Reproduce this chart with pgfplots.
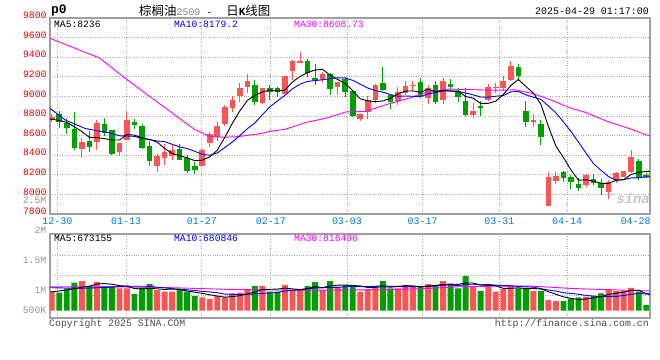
\documentclass[border=0pt]{standalone}
\usepackage{fontspec}
\setmainfont{Liberation Mono}
\newfontfamily\cjk{Noto Sans CJK SC}
\usepackage{pgfplots}
\usepackage{pgfplotstable}
\pgfplotsset{compat=1.18}
\definecolor{cred}{RGB}{250,85,85}
\definecolor{cgreen}{RGB}{0,158,0}
\definecolor{framegray}{RGB}{160,160,160}
\definecolor{gridgray}{RGB}{170,170,170}
\definecolor{tickblue}{RGB}{0,120,215}
\definecolor{pricered}{RGB}{235,0,0}
\definecolor{maten}{RGB}{0,0,255}
\definecolor{mathirty}{RGB}{255,0,255}
\definecolor{labgray}{RGB}{150,150,150}
\newcommand\fs[1]{\fontsize{#1}{#1}\selectfont}

\pgfplotstableread{
i o h l c v
0 8759 8820 8735 8786 776
4 8468 8571 8372 8533 1212
6 8530 8759 8451 8732 1171
9 8434 8526 8393 8526 914
10 8557 8855 8557 8759 914
14 8287 8417 8229 8393 845
15 8376 8513 8297 8434 776
16 8393 8502 8348 8451 776
20 8295 8460 8285 8453 547
21 8527 8640 8487 8620 478
22 8585 8736 8540 8698 600
23 8718 8915 8700 8895 547
24 8878 9002 8843 8963 710
25 9004 9140 8946 9083 735
26 9099 9229 9032 9157 845
28 8928 9090 8920 9083 1008
31 9029 9204 9029 9204 1049
32 9258 9376 9164 9366 845
33 9346 9450 9339 9366 845
36 9164 9248 9137 9231 845
38 9096 9150 9012 9147 980
41 8769 8822 8746 8820 776
42 8841 9000 8769 8966 886
43 8966 9126 8932 9112 1008
46 8956 9095 8915 9044 914
47 9034 9153 9017 9108 1049
48 9112 9160 9058 9119 980
50 8983 9112 8922 9085 1090
52 8966 9186 8922 9159 1212
56 8814 8932 8780 8854 1008
58 8966 9126 8949 9095 1090
59 9085 9136 9030 9100 776
60 9084 9204 9057 9153 886
61 9170 9359 9160 9314 1008
64 8741 8816 8689 8758 804
66 7883 8226 7883 8181 437
67 8140 8226 8106 8192 396
71 8095 8205 8071 8202 571
74 8020 8147 7958 8123 886
75 8150 8226 8113 8219 804
76 8181 8243 8174 8236 804
77 8233 8449 8219 8380 927
}\redtab

\pgfplotstableread{
i o h l c v
1 8817 8855 8680 8742 735
2 8732 8776 8612 8673 914
3 8667 8838 8451 8475 1143
5 8547 8646 8434 8485 1008
7 8718 8783 8598 8622 1008
8 8656 8656 8400 8410 1008
11 8735 8769 8667 8708 682
12 8701 8718 8461 8472 939
13 8496 8543 8287 8338 1090
17 8468 8519 8348 8355 845
18 8376 8400 8218 8239 776
19 8287 8331 8212 8246 600
27 9116 9164 8911 8946 1008
29 9086 9113 8968 9046 776
30 9086 9096 8995 9040 776
34 9366 9383 9198 9241 1008
35 9191 9326 9120 9171 1171
37 9231 9241 9012 9073 1212
39 9175 9198 8995 9040 1049
40 9058 9060 8790 8797 1049
44 9139 9295 9051 9068 1212
45 9017 9024 8875 8939 914
49 9142 9186 8983 9000 1008
51 9119 9153 8922 8939 1049
53 9129 9180 9058 9092 1090
54 9058 9085 8942 8990 914
55 8949 9085 8797 8814 1416
57 8898 8949 8803 8891 804
62 9300 9331 9153 9204 914
63 8851 8957 8689 8741 914
65 8717 8758 8501 8586 804
68 8233 8243 8123 8164 396
69 8181 8198 8054 8123 478
70 8109 8168 8037 8065 547
72 8157 8209 8095 8116 600
73 8113 8157 7992 8061 710
78 8336 8363 8150 8164 776
79 8202 8219 8164 8174 233
}\greentab

\pgfplotsset{
  sinaaxis/.style={
    scale only axis, width=600bp,
    xmin=-0.23, xmax=79.5,
    axis line style={draw=framegray, line width=1.1bp},
    xtick={0.74,9.88,19.95,29.12,39.23,49.28,59.48,68.48},
    grid=major,
    major grid style={draw=gridgray, dotted, line width=0.8bp},
    major tick length=0pt,
    tick style={draw=none},
  },
  wick/.style={draw=none, mark=none, no markers, forget plot,
    error bars/.cd, y dir=both, y explicit, error mark=none,
    error bar style={draw=#1, solid, line width=1bp}},
  body/.style={draw=none, mark=none, no markers, forget plot,
    error bars/.cd, y dir=both, y explicit, error mark=none,
    error bar style={draw=#1, solid, line width=5.6bp}},
}

\begin{document}
\begin{tikzpicture}
\path[use as bounding box] (0bp,0bp) rectangle (660bp,-360bp);

% ---------------- price panel ----------------
\begin{axis}[sinaaxis,
  at={(50bp,-18bp)}, anchor=north west, height=196bp,
  ymin=7800, ymax=9800,
  ytick={7800,8000,8200,8400,8600,8800,9000,9200,9400,9600,9800},
  yticklabels={7800,8000,8200,8400,8600,8800,9000,9200,9400,9600,9800},
  xticklabels={12-30,01-13,01-27,02-17,03-03,03-17,03-31,04-14},
  extra x ticks={77.6}, extra x tick labels={04-28},
  extra x tick style={grid=none},
  xticklabel style={font=\fs{10}, text=tickblue},
  yticklabel style={font=\fs{9.8}, text=pricered, yshift=2.5bp},
  clip=true,
]
\addplot[wick=cred] table[x=i, y expr={(\thisrow{h}+\thisrow{l})/2}, y error expr={(\thisrow{h}-\thisrow{l})/2}] {\redtab};
\addplot[body=cred] table[x=i, y expr={(\thisrow{o}+\thisrow{c})/2}, y error expr={max(abs(\thisrow{c}-\thisrow{o})/2,5)}] {\redtab};
\addplot[wick=cgreen] table[x=i, y expr={(\thisrow{h}+\thisrow{l})/2}, y error expr={(\thisrow{h}-\thisrow{l})/2}] {\greentab};
\addplot[body=cgreen] table[x=i, y expr={(\thisrow{o}+\thisrow{c})/2}, y error expr={max(abs(\thisrow{c}-\thisrow{o})/2,5)}] {\greentab};

% MA30
\addplot[mathirty, line width=0.9bp, mark=none] coordinates {(-0.23,9593)(2.03,9524)(6.42,9389)(9.48,9201)(13.07,8997)(17.06,8770)(19.06,8660)(21.06,8590)(23.05,8583)(24.78,8590)(27.97,8623)(29,8644)(31.02,8664)(33.68,8732)(36.74,8783)(39,8841)(41.66,8847)(44.72,8922)(47.87,8990)(49,9027)(52.7,9075)(54.97,9071)(59,9062)(61.6,9067)(64,9027)(66,8973)(69,8880)(71,8835)(74,8740)(77,8665)(79,8607)(79.5,8600)};
% MA10
\addplot[maten, line width=0.9bp, mark=none] coordinates {(-0.23,8879)(1.77,8760)(4.43,8673)(7.98,8622)(9,8598)(10,8596)(11,8592)(12,8572)(13,8559)(14,8545)(15,8539)(16,8511)(17,8485)(18,8468)(19,8440)(20,8409)(21,8400)(22,8423)(23,8478)(24,8535)(25,8600)(26,8671)(27,8730)(28,8814)(29,8894)(30,8953)(31,9012)(32,9078)(33,9125)(34,9153)(35,9162)(36,9169)(37,9182)(38,9189)(39,9188)(40,9164)(41,9125)(42,9085)(43,9060)(44,9043)(45,9019)(46,9001)(47,9004)(48,9001)(49,8997)(50,9026)(51,9038)(52,9057)(53,9055)(54,9048)(55,9035)(56,9016)(57,8994)(58,8992)(59,9002)(60,9009)(61,9046)(62,9051)(63,9016)(64,8992)(65,8970)(66,8902)(67,8832)(68,8739)(69,8642)(70,8533)(71,8422)(72,8313)(73,8245)(74,8181)(75,8145)(76,8150)(77,8169)(78,8169)(79,8179)(79.5,8179)};
% MA5
\addplot[black, line width=0.9bp, mark=none] coordinates {(-0.23,8769)(1,8755)(2,8735)(3,8690)(4,8642)(5,8582)(6,8580)(7,8569)(8,8556)(9,8555)(10,8610)(11,8605)(12,8575)(13,8561)(14,8534)(15,8469)(16,8418)(17,8394)(18,8374)(19,8345)(20,8349)(21,8383)(22,8451)(23,8582)(24,8726)(25,8852)(26,8959)(27,9009)(28,9046)(29,9063)(30,9054)(31,9064)(32,9148)(33,9204)(34,9243)(35,9270)(36,9275)(37,9216)(38,9173)(39,9132)(40,9058)(41,8975)(42,8954)(43,8947)(44,8953)(45,8981)(46,9026)(47,9054)(48,9056)(49,9042)(50,9071)(51,9050)(52,9060)(53,9055)(54,9053)(55,8999)(56,8982)(57,8928)(58,8929)(59,8951)(60,9019)(61,9111)(62,9173)(63,9102)(64,9034)(65,8921)(66,8694)(67,8492)(68,8376)(69,8249)(70,8145)(71,8149)(72,8134)(73,8113)(74,8113)(75,8144)(76,8151)(77,8204)(78,8224)(79,8235)(79.5,8236)};
\end{axis}

% ---------------- volume panel ----------------
\begin{axis}[sinaaxis,
  at={(50bp,-234bp)}, anchor=north west, height=84bp,
  ymin=-298, ymax=3131,
  xticklabels={},
  ytick={612,1429,2245}, yticklabels={},
  clip=true,
]
\addplot[ybar, bar width=5.9bp, bar shift=0pt, fill=cred, draw=none, forget plot] table[x=i, y=v] {\redtab};
\addplot[ybar, bar width=5.9bp, bar shift=0pt, fill=cgreen, draw=none, forget plot] table[x=i, y=v] {\greentab};
% MA30
\addplot[mathirty, line width=0.9bp, mark=none] coordinates {(-0.23,980)(8,975)(16,939)(23,873)(29,846)(34,838)(39,843)(44,858)(49,894)(54,977)(59,1001)(64,1001)(69,909)(74,856)(79,811)(79.5,811)};
% MA10
\addplot[maten, line width=0.9bp, mark=none] coordinates {(-0.23,939)(4,914)(8,960)(9,989)(10,1003)(11,997)(12,1000)(13,995)(14,958)(15,935)(16,895)(17,879)(18,856)(19,824)(20,788)(21,767)(22,733)(23,679)(24,666)(25,661)(26,668)(27,685)(28,708)(29,725)(30,748)(31,805)(32,830)(33,860)(34,890)(35,933)(36,933)(37,954)(38,951)(39,978)(40,1005)(41,978)(42,982)(43,998)(44,1019)(45,993)(46,1000)(47,984)(48,984)(49,980)(50,984)(51,1011)(52,1044)(53,1052)(54,1022)(55,1072)(56,1082)(57,1057)(58,1068)(59,1045)(60,1025)(61,1020)(62,991)(63,973)(64,962)(65,901)(66,844)(67,803)(68,734)(69,704)(70,670)(71,626)(72,595)(73,574)(74,583)(75,583)(76,619)(77,672)(78,710)(79,686)(79.5,686)};
% MA5
\addplot[black, line width=0.9bp, mark=none] coordinates {(-0.23,760)(2,845)(4,956)(5,1002)(6,1090)(7,1108)(8,1081)(9,1022)(10,1003)(11,905)(12,891)(13,908)(14,894)(15,866)(16,885)(17,866)(18,804)(19,755)(20,709)(21,649)(22,600)(23,554)(24,576)(25,614)(26,687)(27,769)(28,861)(29,874)(30,883)(31,923)(32,891)(33,858)(34,905)(35,984)(36,943)(37,1016)(38,1043)(39,1051)(40,1027)(41,1013)(42,948)(43,954)(44,986)(45,959)(46,987)(47,1019)(48,1014)(49,973)(50,1008)(51,1035)(52,1068)(53,1090)(54,1071)(55,1136)(56,1128)(57,1046)(58,1046)(59,1019)(60,913)(61,913)(62,935)(63,900)(64,905)(65,889)(66,775)(67,671)(68,567)(69,502)(70,451)(71,478)(72,518)(73,581)(74,663)(75,714)(76,761)(77,826)(78,839)(79,690)(79.5,673)};
\end{axis}

% ---------------- texts ----------------
\node[anchor=west, inner sep=0pt, font=\bfseries\fs{13}] at (51bp,-10.5bp) {p0};
\node[anchor=west, inner sep=0pt] at (139bp,-10.5bp) {{\cjk\fs{12.5}棕榈油}{\color{gray}\fs{10}2509}\hspace{6bp}{\fs{10}-}\hspace{14bp}{\cjk\fs{12.5}日}{\bfseries\fs{11}K}{\cjk\fs{12.5}线图}};
\node[anchor=east, inner sep=0pt, font=\fs{10}] at (649bp,-11.5bp) {2025-04-29 01:17:00};

\node[anchor=west, inner sep=0pt, font=\fs{9.7}, text=black] at (54bp,-24bp) {MA5:8236};
\node[anchor=west, inner sep=0pt, font=\fs{9.7}, text=maten] at (174bp,-24bp) {MA10:8179.2};
\node[anchor=west, inner sep=0pt, font=\fs{9.7}, text=mathirty] at (294bp,-24bp) {MA30:8606.73};

\node[anchor=west, inner sep=0pt, font=\fs{9.7}, text=black] at (54bp,-238.5bp) {MA5:673155};
\node[anchor=west, inner sep=0pt, font=\fs{9.7}, text=maten] at (174bp,-238.5bp) {MA10:680846};
\node[anchor=west, inner sep=0pt, font=\fs{9.7}, text=mathirty] at (294bp,-238.5bp) {MA30:816496};

\node[anchor=east, inner sep=0pt, font=\fs{9.8}, text=labgray] at (46.5bp,-200.5bp) {2.5M};
\node[anchor=east, inner sep=0pt, font=\fs{9.8}, text=labgray] at (46.5bp,-230bp) {2M};
\node[anchor=east, inner sep=0pt, font=\fs{9.8}, text=labgray] at (46.5bp,-260.7bp) {1.5M};
\node[anchor=east, inner sep=0pt, font=\fs{9.8}, text=labgray] at (46.5bp,-290.7bp) {1M};
\node[anchor=east, inner sep=0pt, font=\fs{9.8}, text=labgray] at (46.5bp,-310bp) {500K};

\node[anchor=west, inner sep=0pt, font=\fs{9.9}, text=black!70] at (49bp,-323.5bp) {Copyright 2025 SINA.COM};
\node[anchor=east, inner sep=0pt, font=\fs{9.9}, text=black!70] at (649bp,-324bp) {http://finance.sina.com.cn};

\node[anchor=center, inner sep=0pt, font=\bfseries\itshape\fs{14}, text=black!22] at (633bp,-199bp) {sina};
\end{tikzpicture}
\end{document}
